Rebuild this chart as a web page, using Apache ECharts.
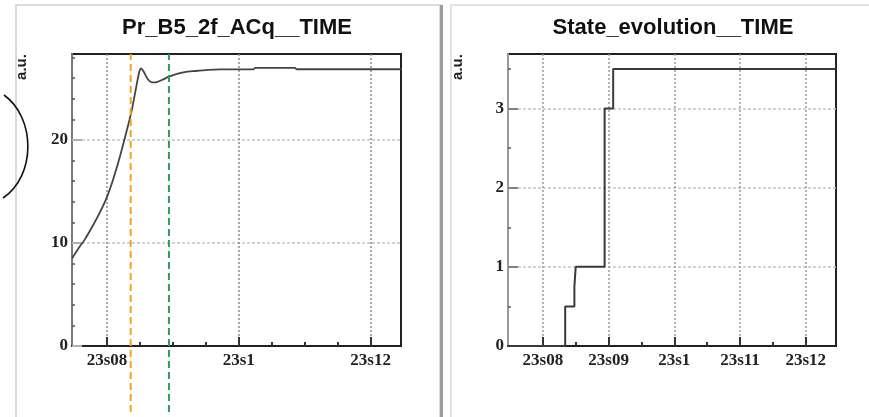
<!DOCTYPE html>
<html>
<head>
<meta charset="utf-8">
<script src="https://cdn.jsdelivr.net/npm/echarts@6/dist/echarts.min.js"></script>
<style>
html,body{margin:0;padding:0;background:#fff;}
#chart{width:869px;height:417px;}
</style>
</head>
<body>
<div id="chart"></div>
<script>
// ---- data ----
const titleLeft = 'Pr_B5_2f_ACq__TIME';
const titleRight = 'State_evolution__TIME';
const yName = 'a.u.';

const timeMin = 23.0747;
const timeMax = 23.1246;

// Left panel: Pr_B5_2f_ACq vs time
const timeLeft = [23.0747, 23.0756, 23.0767, 23.0777, 23.0788, 23.0799, 23.0809, 23.0818, 23.0826, 23.0832,
  23.0838, 23.0844, 23.0849, 23.0852, 23.0856, 23.0862, 23.0868, 23.0874, 23.0884, 23.0894,
  23.0905, 23.0918, 23.0934, 23.0953, 23.0971, 23.1022, 23.1025, 23.1085, 23.1088, 23.1246];
const valueLeft = [8.5, 9.4, 10.4, 11.5, 12.8, 14.3, 16.1, 18.0, 19.9, 21.4,
  23.0, 25.0, 26.6, 26.95, 26.6, 25.9, 25.6, 25.6, 25.85, 26.15,
  26.4, 26.6, 26.7, 26.8, 26.85, 26.85, 27.0, 27.0, 26.87, 26.87];
const yMaxLeft = 28.35;
const yMajorLeft = [0, 10, 20];
const yMinorLeft = [2, 4, 6, 8, 12, 14, 16, 18, 22, 24, 26, 28];

// Right panel: state evolution (step)
const timeRight = [23.0747, 23.0834, 23.0848, 23.0850, 23.0894, 23.0907, 23.1246];
const stateRight = [0, 0.5, 0.75, 1, 3, 3.5, 3.5];
const yMaxRight = 3.69;
const yMajorRight = [0, 1, 2, 3];
const yMinorRight = [0.5, 1.5, 2.5, 3.5];

// Marker lines on left panel
const markerOrange = 23.0836;
const markerGreen = 23.0894;

// Tick values
const xMajorLeft = [23.08, 23.10, 23.12];
const xMinorLeft = [23.085, 23.09, 23.095, 23.105, 23.11, 23.115];
const xMajorRight = [23.08, 23.09, 23.10, 23.11, 23.12];
const xMinorRight = [23.085, 23.095, 23.105, 23.115];

// ---- chart ----
const labelFont = {fontFamily: 'Liberation Serif', fontWeight: 'bold', fontSize: 17, color: '#222'};
function fmtTime(v) {
  let s = (Math.round(v * 100) / 100).toFixed(2).replace(/0+$/, '');
  return s.replace('.', 's');
}

function majorX(grid, values, splitColor) {
  return {
    type: 'value', gridIndex: grid, min: timeMin, max: timeMax, position: 'bottom',
    axisLine: {show: true, onZero: false, lineStyle: {color: '#222', width: 2}},
    axisTick: {show: true, inside: true, length: 9, customValues: values, lineStyle: {color: '#333', width: 2}},
    axisLabel: Object.assign({show: true, margin: 6, customValues: values, formatter: fmtTime}, labelFont),
    splitLine: {show: true, lineStyle: {color: splitColor, width: 1.5, type: [2, 2]}}
  };
}
function minorX(grid, values) {
  return {
    type: 'value', gridIndex: grid, min: timeMin, max: timeMax, position: 'bottom', offset: 0,
    axisLine: {show: false},
    axisTick: {show: true, inside: true, length: 4, customValues: values, lineStyle: {color: '#333', width: 2}},
    axisLabel: {show: false},
    splitLine: {show: false}
  };
}
function majorY(grid, max, values, axisColor, tickColor) {
  return {
    type: 'value', gridIndex: grid, min: 0, max: max, position: 'left',
    axisLine: {show: true, onZero: false, lineStyle: {color: axisColor, width: 2}},
    axisTick: {show: true, inside: true, length: 10, customValues: values, lineStyle: {color: tickColor, width: 2}},
    axisLabel: Object.assign({show: true, margin: 4, customValues: values}, labelFont),
    splitLine: {show: true, lineStyle: {color: '#c4c4c4', width: 1.5, type: [3, 2]}}
  };
}
function minorY(grid, max, values) {
  return {
    type: 'value', gridIndex: grid, min: 0, max: max, position: 'left', offset: 0,
    axisLine: {show: false},
    axisTick: {show: true, inside: true, length: 3, customValues: values, lineStyle: {color: '#555', width: 1.5}},
    axisLabel: {show: false},
    splitLine: {show: false}
  };
}

const chart = echarts.init(document.getElementById('chart'), null, {renderer: 'canvas'});
const titleStyle = {fontFamily: 'Liberation Sans', fontWeight: 'bold', fontSize: 22, color: '#111'};
const option = {
  backgroundColor: '#fff',
  animation: false,
  title: [
    {text: titleLeft, left: 232, top: 12, textAlign: 'center', textStyle: titleStyle},
    {text: titleRight, left: 668, top: 12, textAlign: 'center', textStyle: titleStyle}
  ],
  grid: [
    {left: 72, right: 468, top: 54, bottom: 71, show: true, borderColor: '#222', borderWidth: 2, backgroundColor: 'transparent'},
    {left: 508, right: 33, top: 54, bottom: 71, show: true, borderColor: '#222', borderWidth: 2, backgroundColor: 'transparent'},
    {left: 72, right: 468, top: 54, bottom: 5, show: false}
  ],
  xAxis: [
    majorX(0, xMajorLeft, '#8a8a8a'),
    minorX(0, xMinorLeft),
    majorX(1, xMajorRight, '#9a9a9a'),
    minorX(1, xMinorRight),
    {type: 'value', gridIndex: 2, min: timeMin, max: timeMax, show: false}
  ],
  yAxis: [
    majorY(0, yMaxLeft, yMajorLeft, '#7a7a7a', '#b0b0b0'),
    minorY(0, yMaxLeft, yMinorLeft),
    majorY(1, yMaxRight, yMajorRight, '#9a9a9a', '#808080'),
    minorY(1, yMaxRight, yMinorRight),
    {type: 'value', gridIndex: 2, min: 0, max: 1, show: false}
  ],
  series: [
    {type: 'line', xAxisIndex: 0, yAxisIndex: 0, showSymbol: false, smooth: 0.25, z: 3,
     lineStyle: {color: '#444', width: 1.8},
     data: timeLeft.map((t, i) => [t, valueLeft[i]])},
    {type: 'line', xAxisIndex: 2, yAxisIndex: 2, showSymbol: false, step: 'end', z: 3,
     lineStyle: {color: '#3a3a3a', width: 2},
     data: timeRight.map((t, i) => [t, stateRight[i]])},
    {type: 'line', xAxisIndex: 4, yAxisIndex: 4, showSymbol: false, z: 4,
     lineStyle: {color: '#f4a21e', width: 2, type: [7, 4]},
     data: [[markerOrange, 0], [markerOrange, 1]]},
    {type: 'line', xAxisIndex: 4, yAxisIndex: 4, showSymbol: false, z: 4,
     lineStyle: {color: '#2f9a5e', width: 2, type: [7, 4]},
     data: [[markerGreen, 0], [markerGreen, 1]]}
  ],
  graphic: [
    {type: 'rect', shape: {x: 16, y: 5, width: 424, height: 430}, silent: true, z: -1,
     style: {fill: 'none', stroke: '#dcdcdc', lineWidth: 2}},
    {type: 'rect', shape: {x: 440, y: 5, width: 3, height: 412}, silent: true, z: -1,
     style: {fill: '#9c9c9c'}},
    {type: 'rect', shape: {x: 451, y: 5, width: 440, height: 430}, silent: true, z: -1,
     style: {fill: 'none', stroke: '#e2e2e2', lineWidth: 2}},
    {type: 'bezierCurve', shape: {x1: 4, y1: 95, cpx1: 36, cpy1: 118, cpx2: 36, cpy2: 176, x2: 3, y2: 198},
     silent: true, style: {stroke: '#111', lineWidth: 1.6, fill: 'none'}},
    {type: 'text', x: 22, y: 67, rotation: Math.PI / 2, silent: true,
     style: {text: yName, fontFamily: 'Liberation Sans', fontWeight: 'bold', fontSize: 15, fill: '#222', align: 'center', verticalAlign: 'middle'}},
    {type: 'text', x: 458, y: 67, rotation: Math.PI / 2, silent: true,
     style: {text: yName, fontFamily: 'Liberation Sans', fontWeight: 'bold', fontSize: 15, fill: '#222', align: 'center', verticalAlign: 'middle'}}
  ]
};
chart.setOption(option);
</script>
</body>
</html>
